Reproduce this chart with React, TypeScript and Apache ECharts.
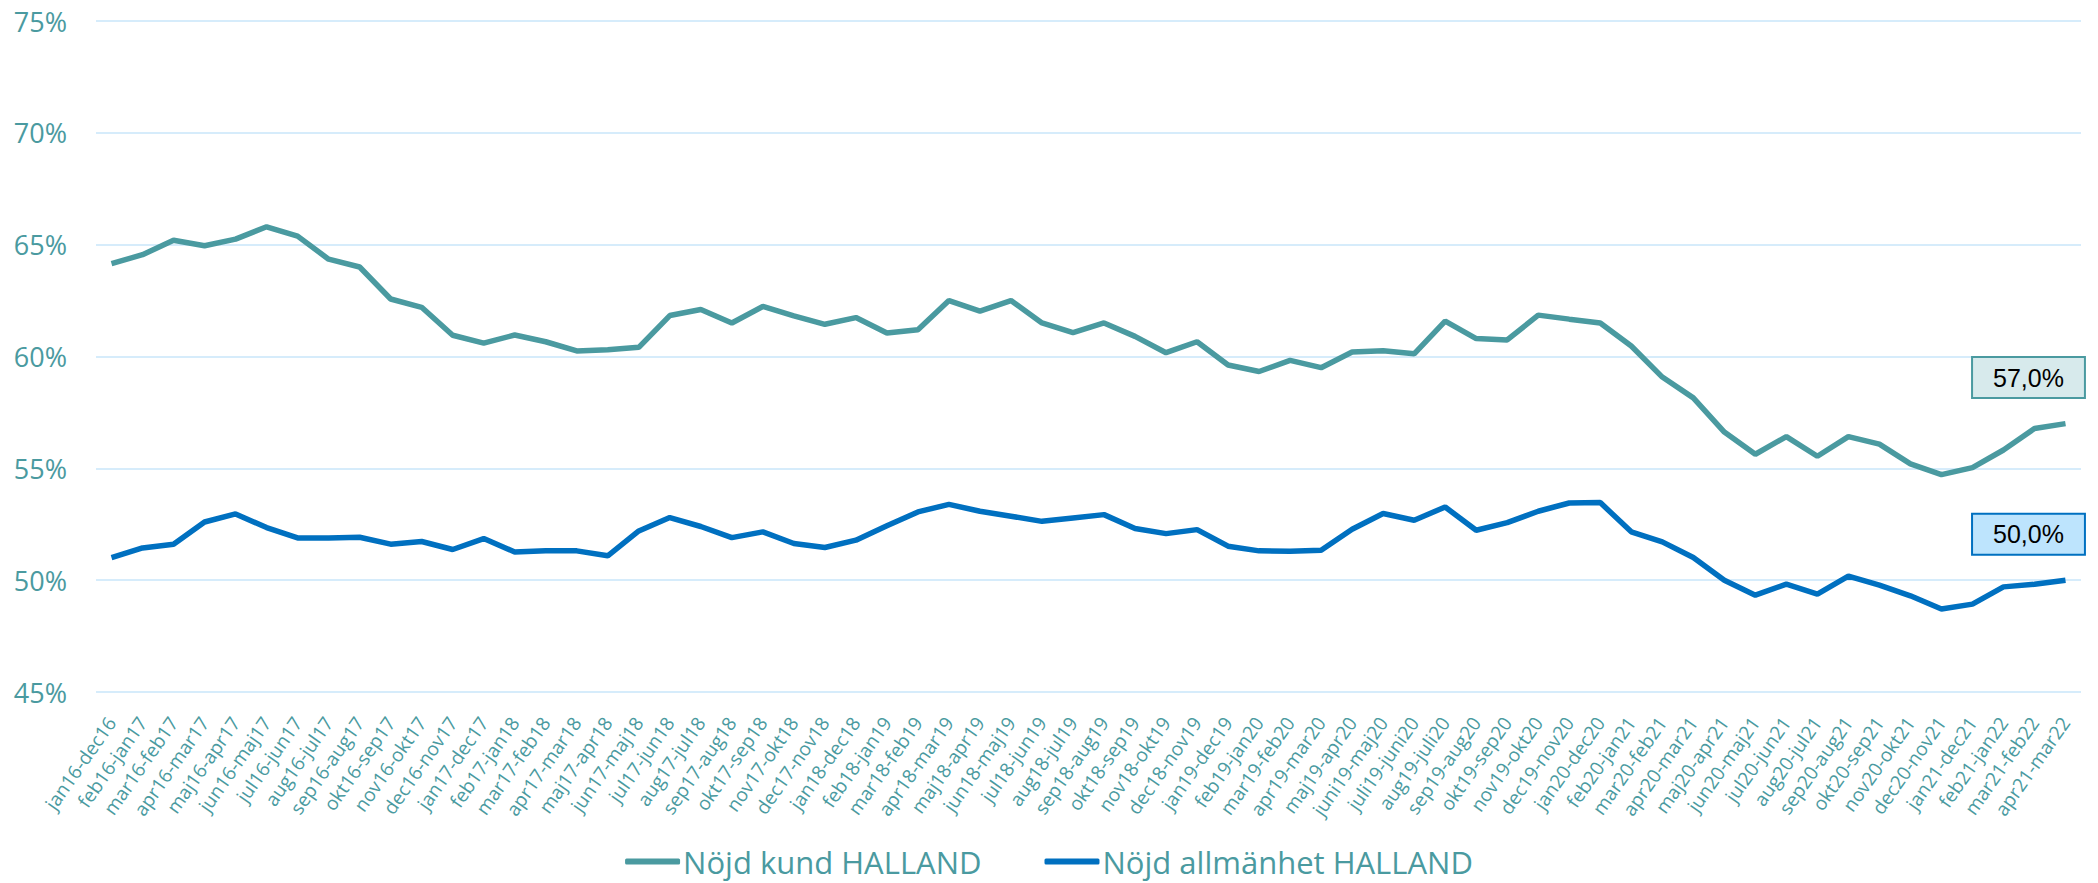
import React, { useEffect, useRef } from "react";
import * as echarts from "echarts";

const categories: string[] = [
  "jan16-dec16", "feb16-jan17", "mar16-feb17", "apr16-mar17", "maj16-apr17", "jun16-maj17",
  "jul16-jun17", "aug16-jul17", "sep16-aug17", "okt16-sep17", "nov16-okt17", "dec16-nov17",
  "jan17-dec17", "feb17-jan18", "mar17-feb18", "apr17-mar18", "maj17-apr18", "jun17-maj18",
  "jul17-jun18", "aug17-jul18", "sep17-aug18", "okt17-sep18", "nov17-okt18", "dec17-nov18",
  "jan18-dec18", "feb18-jan19", "mar18-feb19", "apr18-mar19", "maj18-apr19", "jun18-maj19",
  "jul18-jun19", "aug18-jul19", "sep18-aug19", "okt18-sep19", "nov18-okt19", "dec18-nov19",
  "jan19-dec19", "feb19-jan20", "mar19-feb20", "apr19-mar20", "maj19-apr20", "juni19-maj20",
  "juli19-juni20", "aug19-juli20", "sep19-aug20", "okt19-sep20", "nov19-okt20", "dec19-nov20",
  "jan20-dec20", "feb20-jan21", "mar20-feb21", "apr20-mar21", "maj20-apr21", "jun20-maj21",
  "jul20-jun21", "aug20-jul21", "sep20-aug21", "okt20-sep21", "nov20-okt21", "dec20-nov21",
  "jan21-dec21", "feb21-jan22", "mar21-feb22", "apr21-mar22",
];

const nojdKund: number[] = [
  64.15, 64.55, 65.2, 64.95, 65.25, 65.8, 65.38, 64.35, 64.0, 62.57, 62.2, 60.95,
  60.6, 60.96, 60.66, 60.25, 60.3, 60.41, 61.83, 62.1, 61.5, 62.24, 61.82, 61.44,
  61.74, 61.05, 61.2, 62.5, 62.03, 62.5, 61.5, 61.07, 61.5, 60.9, 60.17, 60.66,
  59.62, 59.33, 59.83, 59.5, 60.2, 60.26, 60.12, 61.58, 60.8, 60.74, 61.85, 61.67,
  61.5, 60.47, 59.08, 58.15, 56.62, 55.63, 56.42, 55.54, 56.42, 56.08, 55.2, 54.72,
  55.03, 55.82, 56.78, 57.0,
];

const nojdAllmanhet: number[] = [
  51.01, 51.44, 51.61, 52.6, 52.96, 52.35, 51.89, 51.89, 51.92, 51.61, 51.73, 51.37,
  51.86, 51.26, 51.32, 51.31, 51.09, 52.2, 52.8, 52.4, 51.9, 52.16, 51.64, 51.46,
  51.79, 52.43, 53.05, 53.39, 53.08, 52.86, 52.63, 52.78, 52.93, 52.31, 52.08, 52.26,
  51.52, 51.31, 51.29, 51.34, 52.28, 52.98, 52.68, 53.27, 52.23, 52.57, 53.08, 53.45,
  53.47, 52.16, 51.71, 51.01, 50.0, 49.33, 49.82, 49.38, 50.18, 49.78, 49.3, 48.71,
  48.93, 49.7, 49.82, 50.0,
];

const seriesNames: string[] = ["Nöjd kund HALLAND", "Nöjd allmänhet HALLAND"];
const yTicks = { min: 45, max: 75, interval: 5 };

const TEAL = "#4a9aa0";
const BLUE = "#0070c0";
const GRID = "#d6ecfb";

const fmt = (v: number) => `${v.toFixed(1).replace(".", ",")}%`;

function endMark(values: number[], bg: string, border: string) {
  const lastIdx = values.length - 1;
  return {
    symbol: "circle",
    symbolSize: 1,
    itemStyle: { color: "rgba(0,0,0,0)" },
    silent: true,
    data: [
      {
        coord: [categories[lastIdx], values[lastIdx]],
        value: values[lastIdx],
      },
    ],
    label: {
      show: true,
      position: "inside",
      offset: [-37, -46],
      formatter: (p: any) => fmt(p.value),
      color: "#000",
      fontFamily: "Liberation Sans, Arial, sans-serif",
      fontSize: 25,
      backgroundColor: bg,
      borderColor: border,
      borderWidth: 2,
      padding: [6, 20, 5, 20],
      lineHeight: 28,
    },
  };
}

export default function App() {
  const ref = useRef<HTMLDivElement>(null);

  useEffect(() => {
    if (!ref.current) return;
    const chart = echarts.init(ref.current, undefined, { renderer: "svg" });
    chart.setOption({
      animation: false,
      backgroundColor: "#ffffff",
      grid: { left: 96, right: 17, top: 21, bottom: 191, containLabel: false },
      legend: {
        data: seriesNames,
        top: 841,
        left: "center",
        icon: "roundRect",
        itemWidth: 55,
        itemHeight: 6,
        itemGap: 63,
        textStyle: {
          color: TEAL,
          fontFamily: "Open Sans, sans-serif",
          fontSize: 31,
          padding: [0, 0, 0, -2],
        },
      },
      xAxis: {
        type: "category",
        data: categories,
        boundaryGap: true,
        axisLine: { show: false },
        axisTick: { show: false },
        axisLabel: {
          interval: 0,
          rotate: 55,
          margin: 27,
          color: TEAL,
          fontFamily: "Open Sans, sans-serif",
          fontSize: 19,
        },
        splitLine: { show: false },
      },
      yAxis: {
        type: "value",
        min: yTicks.min,
        max: yTicks.max,
        interval: yTicks.interval,
        axisLine: { show: false },
        axisTick: { show: false },
        axisLabel: {
          formatter: "{value}%",
          color: TEAL,
          fontFamily: "Open Sans, sans-serif",
          fontSize: 27,
          margin: 29,
        },
        splitLine: { lineStyle: { color: GRID, width: 2 } },
      },
      series: [
        {
          name: seriesNames[0],
          type: "line",
          data: nojdKund,
          showSymbol: false,
          lineStyle: { color: TEAL, width: 5.5 },
          itemStyle: { color: TEAL },
          markPoint: endMark(nojdKund, "#d7eaec", TEAL),
        },
        {
          name: seriesNames[1],
          type: "line",
          data: nojdAllmanhet,
          showSymbol: false,
          lineStyle: { color: BLUE, width: 5.5 },
          itemStyle: { color: BLUE },
          markPoint: endMark(nojdAllmanhet, "#bde4fd", BLUE),
        },
      ],
    });
    return () => chart.dispose();
  }, []);

  return (
    <div
      ref={ref}
      style={{ position: "fixed", left: 0, top: 0, width: 2098, height: 883 }}
    />
  );
}
